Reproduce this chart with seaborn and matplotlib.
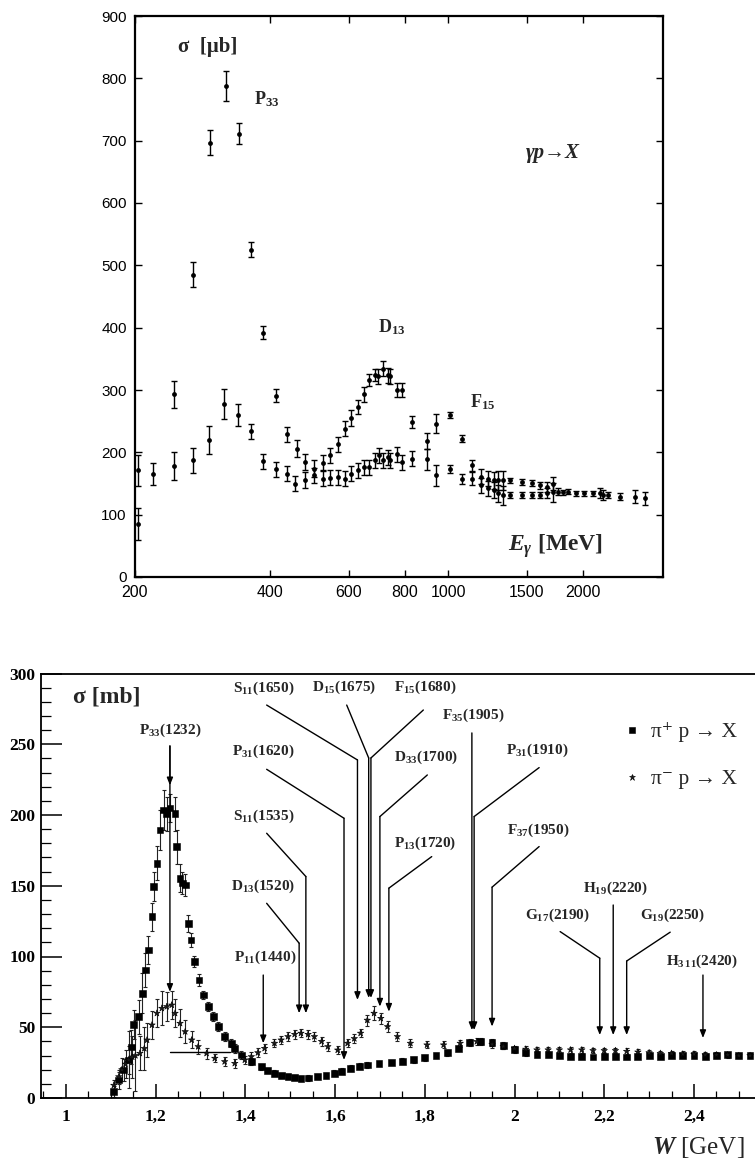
import numpy as np
import pandas as pd
import matplotlib
matplotlib.use("Agg")
import matplotlib.pyplot as plt
import matplotlib.ticker as mticker
import seaborn as sns

# ---------------- data: top panel  (gamma p -> X), E_gamma in MeV, sigma in microbarn
E_upper = [203, 245, 269, 294, 319, 342, 364, 387, 412, 436, 459, 480, 502, 525, 545,
           567, 589, 608, 629, 649, 665, 687, 698, 716, 733, 741, 770, 788, 829, 896,
           940, 1008, 1076, 1129, 1182, 1225, 1268, 1294, 1327, 1374, 1459, 1537, 1604,
           1660, 1717]
sig_upper = [171, 293, 485, 697, 787, 711, 525, 392, 291, 229, 206, 185, 174, 183, 195,
             213, 238, 255, 273, 293, 316, 324, 322, 334, 324, 322, 300, 300, 249, 218,
             246, 260, 222, 179, 161, 158, 155, 155, 155, 155, 153, 151, 147, 145, 150]
err_upper = [25, 22, 20, 20, 24, 17, 12, 10, 11, 12, 13, 13, 13, 12, 12,
             12, 12, 13, 11, 12, 10, 10, 12, 12, 12, 12, 12, 12, 10, 13,
             15, 5, 6, 9, 12, 12, 14, 15, 15, 4, 5, 5, 6, 8, 11]

E_lower = [203, 219, 245, 270, 293, 316, 340, 364, 387, 412, 436, 456, 480, 502, 525,
           545, 567, 589, 608, 629, 649, 665, 687, 702, 716, 733, 741, 770, 788, 829,
           896, 940, 1010, 1074, 1129, 1182, 1225, 1268, 1294, 1327, 1374, 1459, 1537,
           1604, 1660, 1717, 1763, 1806, 1855, 1935, 2012, 2105, 2182, 2220, 2278, 2419,
           2612, 2751]
sig_lower = [85, 165, 178, 187, 220, 277, 260, 234, 186, 173, 166, 150, 155, 163, 158,
             159, 160, 158, 166, 171, 176, 176, 187, 195, 187, 192, 187, 197, 184, 190,
             189, 163, 173, 157, 158, 147, 142, 139, 134, 131, 131, 131, 131, 131, 134,
             136, 137, 136, 137, 134, 134, 134, 135, 131, 131, 129, 129, 126]
err_lower = [25, 18, 22, 20, 22, 24, 17, 12, 12, 12, 12, 12, 13, 12, 12,
             12, 12, 12, 12, 12, 12, 12, 12, 12, 12, 12, 12, 12, 12, 12,
             17, 17, 6, 8, 10, 12, 12, 13, 14, 15, 5, 5, 5, 5, 8,
             15, 5, 4, 4, 4, 4, 4, 8, 8, 5, 6, 10, 10]

top_xticks = [200, 400, 600, 800, 1000, 1500, 2000]
top_yticks = [0, 100, 200, 300, 400, 500, 600, 700, 800, 900]

# ---------------- data: bottom panel (pi N total cross sections), W in GeV, sigma in mb
W_pip = [1.107, 1.118, 1.129, 1.140, 1.146, 1.151, 1.162, 1.170, 1.177, 1.184,
         1.192, 1.196, 1.203, 1.210, 1.218, 1.225, 1.232, 1.2435, 1.247, 1.2546,
         1.260, 1.266, 1.273, 1.279, 1.2865, 1.2967, 1.306, 1.3175, 1.3286, 1.3397,
         1.354, 1.369, 1.3765, 1.391, 1.4135, 1.4357, 1.45, 1.465, 1.48, 1.495,
         1.51, 1.524, 1.54, 1.561, 1.58, 1.598, 1.615, 1.635, 1.655, 1.672,
         1.698, 1.725, 1.75, 1.775, 1.80, 1.825, 1.85, 1.875, 1.90, 1.925,
         1.95, 1.975, 2.00, 2.025, 2.05, 2.075, 2.10, 2.125, 2.15, 2.175,
         2.20, 2.225, 2.25, 2.275, 2.30, 2.325, 2.35, 2.375, 2.40, 2.425,
         2.45, 2.475, 2.50, 2.525]
sig_pip = [4.5, 12.7, 19.8, 26.9, 36, 52, 57.5, 74, 90.5, 104.6,
           128, 149.4, 165.9, 189.4, 203.5, 201, 205, 201, 177.6, 155.3,
           152, 150.5, 123.5, 111.7, 96.3, 83.4, 72.8, 64.5, 57.5, 50.4,
           43.3, 38.7, 35.1, 30.4, 25.7, 22.1, 19.5, 17.5, 16, 15.1,
           14.5, 13.9, 14.2, 15.1, 16, 17.5, 19, 21, 22.5, 23.3,
           24.5, 25, 26, 27, 28.5, 30, 32, 35, 39, 40,
           39, 37, 34, 32, 31, 30.5, 30, 29.5, 29.5, 29,
           29.5, 29.5, 29, 29.5, 30, 29.5, 30, 30, 30, 29.5,
           30, 30.5, 30, 30]
err_pip = [4, 6, 8, 10, 12, 10, 12, 14, 12, 10,
           10, 10, 12, 14, 14, 12, 10, 12, 12, 10,
           8, 8, 6, 5, 4, 4, 3, 3, 3, 3,
           3, 3, 3, 2.5, 2.5, 2, 2, 2, 2, 2,
           2, 2, 2, 2, 2, 2, 2, 2, 2, 2,
           2, 2, 2, 2, 2, 2, 2, 2, 2.5, 2.5,
           2.5, 2.5, 2, 2, 2, 1.5, 1.5, 1.5, 1.5, 1.5,
           1.5, 1.5, 1.5, 1.5, 1.5, 1.5, 1.5, 1.5, 1.5, 1.5,
           1.5, 1.5, 1.5, 1.5]

W_pim = [1.107, 1.118, 1.125, 1.133, 1.140, 1.148, 1.155, 1.165, 1.175, 1.181,
         1.192, 1.203, 1.214, 1.225, 1.236, 1.2435, 1.2546, 1.266, 1.2805, 1.295,
         1.3137, 1.332, 1.354, 1.3765, 1.399, 1.4135, 1.428, 1.443, 1.465, 1.48,
         1.495, 1.51, 1.524, 1.54, 1.554, 1.57, 1.584, 1.606, 1.628, 1.643,
         1.657, 1.672, 1.687, 1.702, 1.717, 1.739, 1.768, 1.805, 1.842, 1.879,
         1.916, 1.95, 1.975, 2.00, 2.025, 2.05, 2.075, 2.10, 2.125, 2.15,
         2.175, 2.20, 2.225, 2.25, 2.275, 2.30, 2.325, 2.35, 2.375, 2.40,
         2.425, 2.45, 2.475, 2.50, 2.525]
sig_pim = [9, 15, 20, 24, 27, 29, 30, 31.6, 35, 41,
           51.6, 59.9, 63.4, 64.6, 65.7, 59.9, 52.8, 46.9, 41, 36.3,
           31.6, 28.1, 25.7, 24.5, 26.9, 29.2, 32, 35.1, 38.7, 41,
           43.4, 45, 45.8, 45, 43.4, 40, 36.3, 33.9, 38.7, 42,
           45.8, 55, 59.9, 56.3, 50.4, 43.4, 38.7, 37.5, 37.5, 38.7,
           39.9, 38, 36.5, 35, 34.5, 34, 34, 34, 34, 34,
           33.5, 33.5, 33.5, 33, 32.5, 32, 31.5, 31.5, 31, 31,
           30.5, 30.5, 30.5, 30, 30]
err_pim = [4, 5, 8, 10, 20, 15, 25, 12, 15, 12,
           10, 10, 12, 10, 10, 10, 10, 8, 6, 5,
           4, 3, 3, 3, 3, 3, 3, 3, 3, 3,
           3, 3, 3, 3, 3, 3, 3, 3, 3, 3,
           3, 4, 5, 4, 4, 3, 3, 2.5, 2.5, 2.5,
           2.5, 2.5, 2, 2, 2, 2, 2, 2, 2, 2,
           2, 2, 2, 2, 2, 2, 2, 2, 2, 2,
           2, 2, 2, 2, 2]

guide_W = [1.232, 1.365]
guide_sig = [32.7, 32.7]

bot_xticks = [1.0, 1.2, 1.4, 1.6, 1.8, 2.0, 2.2, 2.4]
bot_xlabels = ["1", "1,2", "1,4", "1,6", "1,8", "2", "2,2", "2,4"]
bot_yticks = [0, 50, 100, 150, 200, 250, 300]

res_labels = [r"P$_{33}$(1232)", r"S$_{11}$(1650)", r"D$_{15}$(1675)", r"F$_{15}$(1680)",
              r"P$_{31}$(1620)", r"D$_{33}$(1700)", r"S$_{11}$(1535)", r"P$_{13}$(1720)",
              r"D$_{13}$(1520)", r"P$_{11}$(1440)", r"F$_{35}$(1905)", r"P$_{31}$(1910)",
              r"F$_{37}$(1950)", r"H$_{19}$(2220)", r"G$_{17}$(2190)", r"G$_{19}$(2250)",
              r"H$_{3\,11}$(2420)"]
res_mass = [1.232, 1.650, 1.675, 1.680, 1.620, 1.700, 1.535, 1.720, 1.520, 1.440,
            1.905, 1.910, 1.950, 2.220, 2.190, 2.250, 2.420]

pi_labels = ["π⁺ p → X", "π⁻ p → X"]

# ---------------- layout (annotation geometry, not data)
# label centre (W, sigma), start of leader (W, sigma) or None, bend height, arrow tip height
res_layout = [
    ((1.232, 260), None, 248.8, 75),
    ((1.4405, 289.8), (1.4476, 277.7), 238.9, 69.3),
    ((1.620, 290), (1.626, 277.7), 240.3, 70.7),
    ((1.8017, 290), (1.7968, 274.2), 240.3, 70.7),
    ((1.4405, 244.7), (1.4476, 232.3), 197.7, 26.9),
    ((1.8028, 241), (1.8057, 228.3), 198.9, 64.6),
    ((1.4405, 198.8), (1.4476, 187.1), 156.5, 59.9),
    ((1.8006, 180), (1.8155, 170.6), 148.3, 61),
    ((1.4405, 149.4), (1.4476, 137.6), 109.4, 59.9),
    ((1.4438, 99.4), None, 86.9, 38.7),
    ((1.9088, 270.7), None, 258, 48),
    ((2.0515, 246), (2.0549, 233.5), 198.9, 48),
    ((2.0537, 189.4), (2.0549, 177.7), 149, 50.5),
    ((2.2243, 148.4), None, 136.4, 44.5),
    ((2.095, 129.3), (2.1017, 117.6), 98.8, 44.5),
    ((2.3526, 129.3), (2.347, 117.2), 96.8, 44.5),
    ((2.4173, 96.3), None, 86.9, 42.4),
]

sns.set_theme(style="ticks")
plt.rcParams["font.family"] = ["Liberation Serif", "DejaVu Serif"]
plt.rcParams["mathtext.fontset"] = "custom"
plt.rcParams["mathtext.rm"] = "Liberation Serif:bold"
plt.rcParams["mathtext.it"] = "Liberation Serif:italic:bold"
plt.rcParams["mathtext.bf"] = "Liberation Serif:bold"
plt.rcParams["axes.edgecolor"] = "black"
plt.rcParams["xtick.color"] = "black"
plt.rcParams["ytick.color"] = "black"

fig = plt.figure(figsize=(7.55, 11.67), dpi=100)
fig.patch.set_facecolor("white")

# ======================= TOP PANEL =======================
ax1 = fig.add_axes([135 / 755, 1 - 577 / 1167, 528 / 755, 561 / 1167])
ax1.set_facecolor("white")
ax1.errorbar(E_upper, sig_upper, yerr=err_upper, fmt="none", ecolor="black",
             elinewidth=1.0, capsize=2.2, capthick=1.0)
ax1.errorbar(E_lower, sig_lower, yerr=err_lower, fmt="none", ecolor="black",
             elinewidth=1.0, capsize=2.2, capthick=1.0)
sns.scatterplot(x=E_upper, y=sig_upper, ax=ax1, color="black", s=12, marker="o",
                linewidth=0, zorder=3)
sns.scatterplot(x=E_lower, y=sig_lower, ax=ax1, color="black", s=12, marker="o",
                linewidth=0, zorder=3)
ax1.set_xscale("log")
ax1.set_xlim(200, 3020)
ax1.set_ylim(0, 900)
ax1.set_xticks(top_xticks)
ax1.set_xticklabels([str(v) for v in top_xticks], fontfamily="Liberation Sans", fontsize=11.5)
ax1.xaxis.set_minor_locator(mticker.NullLocator())
ax1.set_yticks(top_yticks)
ax1.set_yticklabels([str(v) for v in top_yticks], fontfamily="Liberation Sans", fontsize=11)
ax1.tick_params(direction="in", top=True, right=True, length=5, width=1.0, pad=6)
for sp in ax1.spines.values():
    sp.set_linewidth(1.6)
    sp.set_color("black")
ax1.set_xlabel("")
ax1.set_ylabel("")

ax1.text(0.138, 0.945, "σ  [μb]", transform=ax1.transAxes, ha="center", va="center",
         fontsize=15, fontweight="bold")
ax1.text(0.25, 0.852, r"P$_{33}$", transform=ax1.transAxes, ha="center", va="center",
         fontsize=13, fontweight="bold")
ax1.text(0.792, 0.756, "γp→X", transform=ax1.transAxes, ha="center", va="center",
         fontsize=15, style="italic", fontweight="bold")
ax1.text(0.487, 0.446, r"D$_{13}$", transform=ax1.transAxes, ha="center", va="center",
         fontsize=13, fontweight="bold")
ax1.text(0.659, 0.312, r"F$_{15}$", transform=ax1.transAxes, ha="center", va="center",
         fontsize=13, fontweight="bold")
ax1.text(0.797, 0.055, r"$E_{\gamma}$ [MeV]", transform=ax1.transAxes, ha="center",
         va="center", fontsize=17, fontweight="bold")

# ======================= BOTTOM PANEL =======================
ax2 = fig.add_axes([40.7 / 755, 1 - 1098 / 1167, 1 - 40.7 / 755, 424.5 / 1167])
ax2.set_facecolor("white")

df_pip = pd.DataFrame({"W": W_pip, "sigma": sig_pip, "err": err_pip, "reaction": pi_labels[0]})
df_pim = pd.DataFrame({"W": W_pim, "sigma": sig_pim, "err": err_pim, "reaction": pi_labels[1]})
df2 = pd.concat([df_pip, df_pim], ignore_index=True)

ax2.errorbar(W_pip, sig_pip, yerr=err_pip, fmt="none", ecolor="#222222", elinewidth=0.8,
             capsize=1.5, capthick=0.8)
ax2.errorbar(W_pim, sig_pim, yerr=err_pim, fmt="none", ecolor="#222222", elinewidth=0.8,
             capsize=1.5, capthick=0.8)
sns.scatterplot(data=df2, x="W", y="sigma", hue="reaction", style="reaction",
                palette={pi_labels[0]: "black", pi_labels[1]: "#1a1a1a"},
                markers={pi_labels[0]: "s", pi_labels[1]: "*"},
                s=24, linewidth=0.4, edgecolor="black", ax=ax2, zorder=3)
ax2.plot(guide_W, guide_sig, color="black", lw=1.0)

ax2.set_xlim(0.944, 2.536)
ax2.set_ylim(0, 300)
ax2.set_xticks(bot_xticks)
ax2.set_xticklabels(bot_xlabels, fontsize=12.5, fontweight="bold")
ax2.xaxis.set_minor_locator(mticker.MultipleLocator(0.05))
ax2.set_yticks(bot_yticks)
ax2.set_yticklabels([str(v) for v in bot_yticks], fontsize=12.5, fontweight="bold")
ax2.yaxis.set_minor_locator(mticker.MultipleLocator(10))
ax2.tick_params(axis="y", which="major", direction="in", length=15, width=1.1, pad=4)
ax2.tick_params(axis="y", which="minor", direction="in", length=7, width=0.9)
ax2.tick_params(axis="x", which="major", direction="in", length=10, width=1.1, pad=8)
ax2.tick_params(axis="x", which="minor", direction="in", length=5, width=0.9)
ax2.spines["right"].set_visible(False)
for k in ["left", "bottom", "top"]:
    ax2.spines[k].set_linewidth(1.3)
    ax2.spines[k].set_color("black")
ax2.set_xlabel("")
ax2.set_ylabel("")

sns.move_legend(ax2, loc="center left", bbox_to_anchor=(0.801, 0.806), frameon=False,
                title=None, borderpad=0.0, handlelength=0.8, handletextpad=0.45,
                prop={"family": ["Liberation Serif", "DejaVu Serif"], "size": 15.5},
                labelspacing=1.25, markerscale=1.0)

ax2.text(1.0903, 283.4, "σ [mb]", ha="center", va="center", fontsize=17, fontweight="bold")
ax2.text(2.41, -35, r"$\mathit{W}$ [GeV]", ha="center", va="center", fontsize=18,
         clip_on=False, fontfamily=["Liberation Serif", "DejaVu Serif"])

arrow_kw = dict(arrowstyle="-|>,head_length=0.45,head_width=0.18", lw=1.0, color="black",
                shrinkA=0, shrinkB=0, mutation_scale=10)
for lab, m, (lxy, start, bend_y, tip_y) in zip(res_labels, res_mass, res_layout):
    ax2.text(lxy[0], lxy[1], lab, ha="center", va="center", fontsize=11, fontweight="bold")
    if start is not None:
        ax2.plot([start[0], m], [start[1], bend_y], color="black", lw=1.0)
    ax2.annotate("", xy=(m, tip_y), xytext=(m, bend_y), arrowprops=arrow_kw)
# second arrowhead on the Delta(1232) leader
ax2.annotate("", xy=(res_mass[0], 221), xytext=(res_mass[0], 248.8), arrowprops=arrow_kw)

fig.savefig("out.png", dpi=100, facecolor="white")
